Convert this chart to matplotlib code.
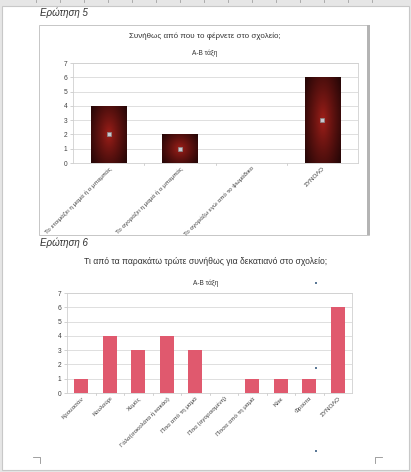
import numpy as np
import matplotlib
matplotlib.use('Agg')
import matplotlib.pyplot as plt
from matplotlib.patches import Rectangle

plt.rcParams['font.family'] = ['Liberation Sans', 'DejaVu Sans']

# Ερώτηση 5
q5_title = 'Συνήθως από που το φέρνετε στο σχολείο;'
q5_sub = 'Α-Β τάξη'
q5_labels = ['Το ετοιμάζει η μαμά ή ο μπαμπάς', 'Το αγοράζει η μαμά ή ο μπαμπάς',
             'Το αγοράζω εγώ από το ψωμάδικο', 'ΣΥΝΟΛΟ']
q5_values = [4, 2, 0, 6]
q5_points = [2, 1, 0, 3]

# Ερώτηση 6
q6_title = 'Τι από τα παρακάτω τρώτε συνήθως για δεκατιανό στο σχολείο;'
q6_sub = 'Α-Β τάξη'
q6_labels = ['Κρουασάν', 'Κουλούρι', 'Χυμός', 'Γάλα(σοκολάτα ή κακάο)', 'Πίτα από τη μαμά',
             'Πίτα (αγορασμένη)', 'Πίτσα από τη μαμά', 'Κέικ', 'Φρούτα', 'ΣΥΝΟΛΟ']
q6_values = [1, 4, 3, 4, 3, 0, 1, 1, 1, 6]

W, H = 411, 472
fig = plt.figure(figsize=(W / 100, H / 100), dpi=100)
fig.patch.set_facecolor('#e6e6e6')


def px(x, y, w, h):
    return [x / W, 1 - (y + h) / H, w / W, h / H]


# page + ruler
page = fig.add_axes([0, 0, 1, 1])
page.set_xlim(0, W)
page.set_ylim(H, 0)
page.axis('off')
page.add_patch(Rectangle((2, 6), 407, 464, facecolor='white', edgecolor='#c8c8c8', lw=0.8))
for xt in range(36, 380, 24):
    page.plot([xt, xt], [0, 2], color='#a0a0a0', lw=0.6)
# chart 1 frame
page.add_patch(Rectangle((39, 25), 330, 210, facecolor='white', edgecolor='#bdbdbd', lw=0.6))
page.add_patch(Rectangle((367, 25), 3, 210, facecolor='#b4b4b4', edgecolor='none'))
txt = '#333333'
page.text(40, 13, 'Ερώτηση 5', fontsize=7, style='italic', color=txt, va='center')
page.text(40, 243, 'Ερώτηση 6', fontsize=7, style='italic', color=txt, va='center')
page.text(205, 36, q5_title, fontsize=5.8, color=txt, ha='center', va='center')
page.text(205, 53, q5_sub, fontsize=4.7, color=txt, ha='center', va='center')
page.text(206, 261, q6_title, fontsize=6.2, color=txt, ha='center', va='center')
page.text(206, 283, q6_sub, fontsize=4.7, color=txt, ha='center', va='center')
page.plot([33, 40, 40], [457, 457, 463], color='#909090', lw=0.6)
page.plot([382, 375, 375], [457, 457, 463], color='#909090', lw=0.6)


def style_axes(ax):
    ax.set_ylim(0, 7)
    ax.set_yticks(range(8))
    ax.grid(axis='y', color='#d9d9d9', lw=0.6)
    ax.set_axisbelow(True)
    for s in ax.spines.values():
        s.set_color('#d0d0d0')
        s.set_linewidth(0.6)
    ax.tick_params(axis='y', length=2, width=0.5, color='#bfbfbf', labelsize=4.8,
                   labelcolor='#404040', pad=2)
    ax.tick_params(axis='x', length=0, labelsize=4.5, labelcolor='#404040', pad=2)


# chart 1 with gradient bars
ax1 = fig.add_axes(px(73, 63, 285, 100))
x1 = np.arange(len(q5_values))
style_axes(ax1)
bars = ax1.bar(x1, q5_values, width=0.5, color='none', edgecolor='none')
gx, gy = np.meshgrid(np.linspace(-1, 1, 80), np.linspace(-1, 1, 80))
r = np.clip(np.sqrt(gx ** 2 + 0.6 * gy ** 2) / 1.2, 0, 1) ** 0.8
c_in = np.array([165, 32, 26]) / 255
c_out = np.array([40, 7, 7]) / 255
img = c_in[None, None, :] * (1 - r[..., None]) + c_out[None, None, :] * r[..., None]
for b in bars:
    if b.get_height() <= 0:
        continue
    x0, w, h = b.get_x(), b.get_width(), b.get_height()
    im = ax1.imshow(img, extent=[x0, x0 + w, 0, h], aspect='auto', zorder=2)
    im.set_clip_path(b)
ax1.set_xlim(-0.5, len(q5_values) - 0.5)
ax1.set_ylim(0, 7)
pts = np.array(q5_points, dtype=float)
mask = pts > 0
ax1.plot(x1[mask], pts[mask], ls='none', marker='s', ms=2.6, mfc='#c8c8d0',
         mec='#8a8a8a', mew=0.5, zorder=3)
for xb in np.arange(0.5, len(q5_values) - 0.5):
    ax1.plot([xb, xb], [0, -0.12], color='#bfbfbf', lw=0.5, clip_on=False)
ax1.set_xticks(x1)
ax1.set_xticklabels(q5_labels, rotation=45, ha='right', rotation_mode='anchor')

# chart 2
ax2 = fig.add_axes(px(67, 293, 285, 100))
x2 = np.arange(len(q6_values))
ax2.bar(x2, q6_values, width=0.5, color='#e0596e', zorder=2)
ax2.set_xlim(-0.5, len(q6_values) - 0.5)
style_axes(ax2)
for xb in np.arange(0.5, len(q6_values) - 0.5):
    ax2.plot([xb, xb], [0, -0.12], color='#bfbfbf', lw=0.5, clip_on=False)
ax2.set_xticks(x2)
ax2.set_xticklabels(q6_labels, rotation=45, ha='right', rotation_mode='anchor')

# selection handles on top
top = fig.add_axes([0, 0, 1, 1], zorder=5)
top.set_xlim(0, W)
top.set_ylim(H, 0)
top.axis('off')
for yy in [283, 368, 451]:
    top.add_patch(Rectangle((315, yy - 1), 2, 2, facecolor='#5a7896', edgecolor='none'))

fig.savefig('out.png', dpi=100)
